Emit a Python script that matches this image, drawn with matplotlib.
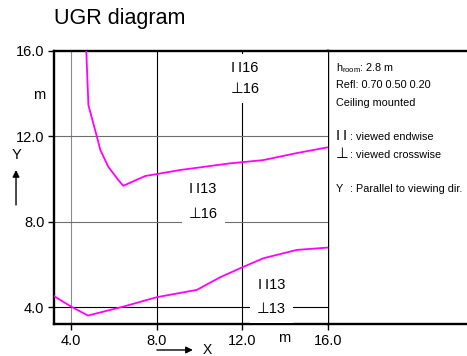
import matplotlib
matplotlib.use("Agg")
import matplotlib.pyplot as plt

plt.rcParams['font.family'] = ['Liberation Sans', 'DejaVu Sans']
plt.rcParams['mathtext.default'] = 'regular'

# UGR limit curves
upper_x = [4.71, 4.81, 5.21, 5.37, 5.74, 6.21, 6.44, 7.47, 8.01, 9.1, 11.43, 12.97, 14.55, 16.0]
upper_y = [16.0, 13.45, 11.97, 11.35, 10.57, 9.95, 9.68, 10.14, 10.23, 10.42, 10.73, 10.88, 11.21, 11.48]
lower_x = [3.2, 4.0, 4.79, 6.45, 8.01, 9.88, 10.97, 11.9, 12.99, 14.55, 16.0]
lower_y = [4.52, 4.03, 3.61, 4.03, 4.47, 4.81, 5.40, 5.82, 6.29, 6.68, 6.79]

ticks = [4.0, 8.0, 12.0, 16.0]
tick_labels = ["4.0", "8.0", "12.0", "16.0"]
vgrid_colors = ["#8a8a8a", "#000000", "#000000"]
hgrid_colors = ["#000000", "#6e6e6e", "#6e6e6e"]

# (x, y endwise, y crosswise, endwise value, crosswise value)
ugr_labels = [(12.13, 15.21, 14.2, "16", "16"),
              (10.17, 9.53, 8.34, "13", "16"),
              (13.38, 5.04, 3.92, "13", "13")]

ENDWISE = "I\u2009I"
CROSSWISE = "\u22a5"

fig = plt.figure(figsize=(4.67, 3.56), dpi=100)
ax = fig.add_axes([0.1156, 0.0890, 0.5861, 0.7685])
panel = fig.add_axes([0.7017, 0.0890, 0.2983, 0.7685])

for x, c in zip(ticks[:3], vgrid_colors):
    ax.axvline(x, color=c, lw=0.8, zorder=1)
for y, c in zip(ticks[:3], hgrid_colors):
    ax.axhline(y, color=c, lw=0.8, zorder=1)

ax.plot(upper_x, upper_y, color="#ff00ff", lw=1.3, zorder=3)
ax.plot(lower_x, lower_y, color="#ff00ff", lw=1.3, zorder=3)

box = dict(facecolor="white", edgecolor="none", pad=5)
for x, y1, y2, v1, v2 in ugr_labels:
    ax.text(x, y1, ENDWISE + v1, ha="center", va="center", fontsize=10.5, bbox=box, zorder=4)
    ax.text(x, y2, CROSSWISE + v2, ha="center", va="center", fontsize=10.5, bbox=box, zorder=4)

ax.set_xlim(3.2, 16)
ax.set_ylim(3.2, 16)
ax.set_xticks(ticks)
ax.set_xticklabels(tick_labels)
ax.set_yticks(ticks)
ax.set_yticklabels(tick_labels)
ax.tick_params(direction="out", length=4, width=1, labelsize=10.5, pad=3)
ax.spines["right"].set_visible(False)
for s in ["left", "bottom", "top"]:
    ax.spines[s].set_linewidth(1.7)

panel.set_xticks([])
panel.set_yticks([])
panel.spines["right"].set_visible(False)
for s in ["top", "bottom", "left"]:
    panel.spines[s].set_linewidth(1.7)
panel.set_zorder(-1)

fig.text(0.1156, 0.932, "UGR diagram", fontsize=15.5, va="baseline")
fig.text(0.0835, 0.733, "m", fontsize=10.5, ha="center", va="center")
fig.text(0.608, 0.0506, "m", fontsize=10.5, ha="center", va="center")
fig.text(0.0343, 0.5646, "Y", fontsize=10.5, ha="center", va="center")
fig.text(0.4443, 0.0165, "X", fontsize=10, ha="center", va="center")
arrow = dict(arrowstyle="-|>", color="black", lw=1, mutation_scale=10, shrinkA=0, shrinkB=0)
fig.add_artist(matplotlib.patches.FancyArrowPatch((0.0343, 0.4242), (0.0343, 0.5225),
               transform=fig.transFigure, **arrow))
fig.add_artist(matplotlib.patches.FancyArrowPatch((0.336, 0.0169), (0.413, 0.0169),
               transform=fig.transFigure, **arrow))

tx, cx = 0.719, 0.7495
fig.text(tx, 0.8014, "h$_{room}$: 2.8 m", fontsize=7.8, va="baseline")
fig.text(tx, 0.752, "Refl: 0.70 0.50 0.20", fontsize=7.8, va="baseline")
fig.text(tx, 0.7022, "Ceiling mounted", fontsize=7.8, va="baseline")
fig.text(tx, 0.6067, ENDWISE, fontsize=10.5, va="baseline")
fig.text(cx, 0.6067, ": viewed endwise", fontsize=7.8, va="baseline")
fig.text(tx, 0.5553, CROSSWISE, fontsize=10.5, va="baseline")
fig.text(cx, 0.5553, ": viewed crosswise", fontsize=7.8, va="baseline")
fig.text(tx, 0.4615, "Y", fontsize=7.8, va="baseline")
fig.text(cx, 0.4615, ": Parallel to viewing dir.", fontsize=7.8, va="baseline")

fig.savefig("out.png", dpi=100)
